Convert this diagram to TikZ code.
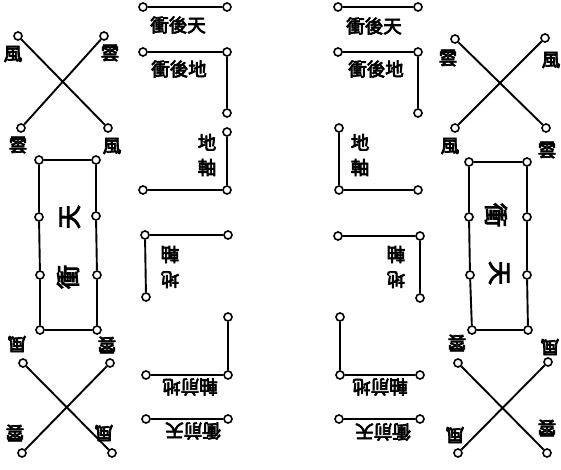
\documentclass[tikz,border=0pt]{standalone}
\usepackage{fontspec}
\newfontfamily\cjk[FakeBold=4]{Noto Sans CJK TC}
\begin{document}
\begin{tikzpicture}[x=1pt,y=-1pt,
  dot/.style={circle,draw,fill=white,line width=1.6pt,minimum size=8pt,inner sep=0pt},
  ln/.style={line width=1.9pt},
  lab/.style={font=\cjk\fontsize{18.5}{18.5}\selectfont,inner sep=0pt},
  big/.style={font=\cjk\fontsize{24}{24}\selectfont,inner sep=0pt},
  vlab/.style={font=\cjk\fontsize{18.5}{25}\selectfont,inner sep=0pt,align=center}]
\useasboundingbox (0,0) rectangle (561,470);
\fill[white] (0,0) rectangle (561,470);
% ---------- left top cross ----------
\node[dot] (a1) at (18,36) {};
\node[dot] (a2) at (104,36) {};
\node[dot] (a3) at (21,128) {};
\node[dot] (a4) at (108,128) {};
\draw[ln] (a1) -- (a4);
\draw[ln] (a2) -- (a3);
\node[lab] (la1) at (13,54) {風};
\node[lab] (la2) at (110,53) {雲};
\node[lab] (la3) at (18,145) {雲};
\node[lab] (la4) at (112,146) {風};
% ---------- left rectangle ----------
\node[dot] (r1) at (39,160) {};
\node[dot] (r2) at (96,160) {};
\node[dot] (r3) at (39,217) {};
\node[dot] (r4) at (96,216) {};
\node[dot] (r5) at (40,275) {};
\node[dot] (r6) at (97,275) {};
\node[dot] (r7) at (40,330) {};
\node[dot] (r8) at (97,330) {};
\draw[ln] (r1) -- (r2);
\draw[ln] (r1) -- (r3) -- (r5) -- (r7);
\draw[ln] (r2) -- (r4) -- (r6) -- (r8);
\draw[ln] (r7) -- (r8);
\node[big,rotate=90] (lt1) at (70,217) {天};
\node[big,rotate=90] (lt2) at (68,277) {衝};
% ---------- left bottom cross ----------
\node[dot] (b1) at (23,363) {};
\node[dot] (b2) at (110,363) {};
\node[dot] (b3) at (22,453) {};
\node[dot] (b4) at (112,453) {};
\draw[ln] (b1) -- (b4);
\draw[ln] (b2) -- (b3);
\node[lab,rotate=180] (lb1) at (17,344) {風};
\node[lab,rotate=180] (lb2) at (107,345) {雲};
\node[lab,rotate=180] (lb3) at (15,433) {雲};
\node[lab,rotate=180] (lb4) at (104,433) {風};
% ---------- right top cross ----------
\node[dot] (c1) at (455,39) {};
\node[dot] (c2) at (545,38) {};
\node[dot] (c3) at (455,128) {};
\node[dot] (c4) at (546,128) {};
\draw[ln] (c1) -- (c4);
\draw[ln] (c2) -- (c3);
\node[lab] (lc1) at (448,58) {雲};
\node[lab] (lc2) at (551,60) {風};
\node[lab] (lc3) at (450,146) {風};
\node[lab] (lc4) at (547,150) {雲};
% ---------- right rectangle ----------
\node[dot] (s1) at (469,162) {};
\node[dot] (s2) at (527,162) {};
\node[dot] (s3) at (469,217) {};
\node[dot] (s4) at (527,217) {};
\node[dot] (s5) at (470,275) {};
\node[dot] (s6) at (527,275) {};
\node[dot] (s7) at (472,330) {};
\node[dot] (s8) at (528,330) {};
\draw[ln] (s1) -- (s2);
\draw[ln] (s1) -- (s3) -- (s5) -- (s7);
\draw[ln] (s2) -- (s4) -- (s6) -- (s8);
\draw[ln] (s7) -- (s8);
\node[big,rotate=-90] (rt1) at (496,215) {衝};
\node[big,rotate=-90] (rt2) at (499,273) {天};
% ---------- right bottom cross ----------
\node[dot] (d1) at (458,363) {};
\node[dot] (d2) at (548,362) {};
\node[dot] (d3) at (458,453) {};
\node[dot] (d4) at (547,453) {};
\draw[ln] (d1) -- (d4);
\draw[ln] (d2) -- (d3);
\node[lab,rotate=180] (ld1) at (457,343) {雲};
\node[lab,rotate=180] (ld2) at (550,347) {風};
\node[lab,rotate=180] (ld3) at (455,435) {風};
\node[lab,rotate=180] (ld4) at (547,428) {雲};
% ---------- left centre column ----------
\node[dot] (e1) at (143,7) {};
\node[dot] (e2) at (227,7) {};
\draw[ln] (e1) -- (e2);
\node[lab] (te1) at (178,25) {衝後天};
\node[dot] (f1) at (143,52) {};
\node[dot] (f2) at (227,52) {};
\node[dot] (f3) at (227,113) {};
\draw[ln] (f1) -- (f2) -- (f3);
\node[lab] (tf1) at (179,69) {衝後地};
\node[dot] (g1) at (227,132) {};
\node[dot] (g2) at (227,190) {};
\node[dot] (g3) at (143,190) {};
\draw[ln] (g1) -- (g2) -- (g3);
\node[vlab] (tg1) at (207,155) {地\\軸};
\node[dot] (h1) at (145,235) {};
\node[dot] (h2) at (228,235) {};
\node[dot] (h3) at (146,297) {};
\draw[ln] (h2) -- (h1) -- (h3);
\node[vlab,rotate=180] (th1) at (170,267) {地\\軸};
\node[dot] (i1) at (228,317) {};
\node[dot] (i2) at (228,375) {};
\node[dot] (i3) at (146,375) {};
\draw[ln] (i1) -- (i2) -- (i3);
\node[lab,rotate=180] (ti1) at (190,387) {軸前地};
\node[dot] (j1) at (146,419) {};
\node[dot] (j2) at (228,419) {};
\draw[ln] (j1) -- (j2);
\node[lab,rotate=180] (tj1) at (193,431) {衝前天};
% ---------- right centre column ----------
\node[dot] (k1) at (338,7) {};
\node[dot] (k2) at (418,7) {};
\draw[ln] (k1) -- (k2);
\node[lab] (tk1) at (374,26) {衝後天};
\node[dot] (m1) at (338,52) {};
\node[dot] (m2) at (418,52) {};
\node[dot] (m3) at (418,113) {};
\draw[ln] (m1) -- (m2) -- (m3);
\node[lab] (tm1) at (376,69) {衝後地};
\node[dot] (n1) at (339,128) {};
\node[dot] (n2) at (339,190) {};
\node[dot] (n3) at (418,190) {};
\draw[ln] (n1) -- (n2) -- (n3);
\node[vlab] (tn1) at (360,155) {地\\軸};
\node[dot] (o1) at (338,236) {};
\node[dot] (o2) at (420,236) {};
\node[dot] (o3) at (420,298) {};
\draw[ln] (o1) -- (o2) -- (o3);
\node[vlab,rotate=180] (to1) at (396,267) {地\\軸};
\node[dot] (p1) at (340,317) {};
\node[dot] (p2) at (340,375) {};
\node[dot] (p3) at (420,375) {};
\draw[ln] (p1) -- (p2) -- (p3);
\node[lab,rotate=180] (tp1) at (380,387) {軸前地};
\node[dot] (q1) at (339,419) {};
\node[dot] (q2) at (420,419) {};
\draw[ln] (q1) -- (q2);
\node[lab,rotate=180] (tq1) at (383,432) {衝前天};
\end{tikzpicture}
\end{document}
